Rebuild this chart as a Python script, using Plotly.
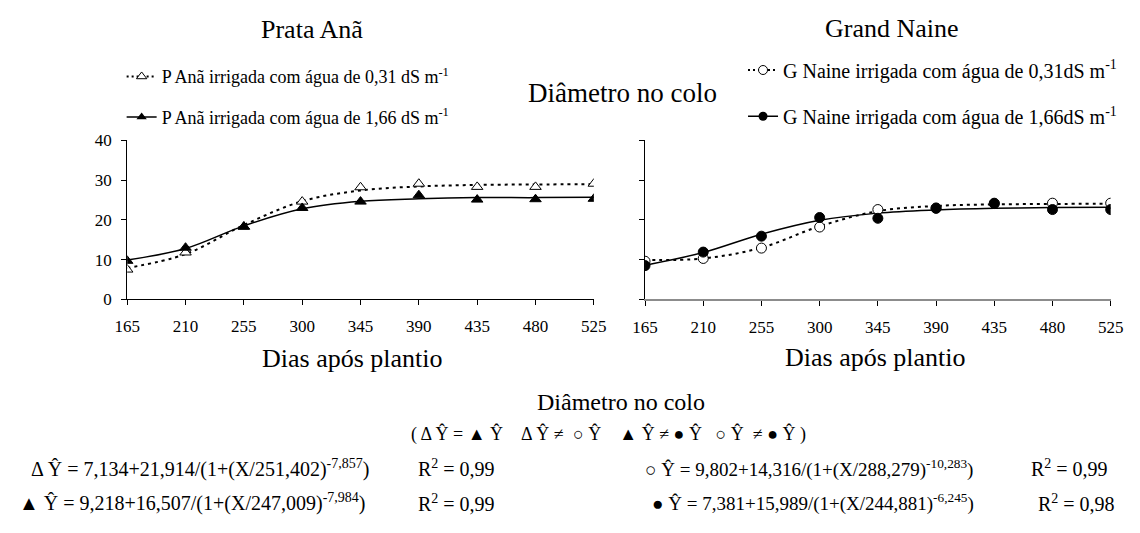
import plotly.graph_objects as go

# ---------------- data ----------------
days = [165, 210, 255, 300, 345, 390, 435, 480, 525]
x_ticks = [165, 210, 255, 300, 345, 390, 435, 480, 525]
y_ticks = [0, 10, 20, 30, 40]

# observed means
pa_031 = [7.5, 11.8, 18.3, 24.6, 28.2, 29.1, 28.3, 28.3, 29.1]
pa_166 = [9.7, 13.0, 18.3, 23.0, 24.6, 26.2, 25.1, 25.2, 25.3]
gn_031 = [9.6, 10.3, 12.9, 18.2, 22.6, 23.0, 24.2, 24.2, 24.2]
gn_166 = [8.5, 11.9, 15.9, 20.6, 20.4, 22.9, 24.1, 22.6, 22.6]

# fitted (curve) values read at each day
fit_pa_031 = [7.9, 11.4, 18.7, 24.7, 27.4, 28.4, 28.8, 28.9, 29.0]
fit_pa_166 = [9.9, 12.8, 18.5, 22.8, 24.7, 25.3, 25.6, 25.6, 25.7]
fit_gn_031 = [9.9, 10.3, 13.0, 18.4, 22.2, 23.5, 23.9, 24.0, 24.1]
fit_gn_166 = [8.6, 11.8, 16.4, 19.9, 21.7, 22.5, 22.9, 23.1, 23.2]

legend_names = [
    "P Anã irrigada com água de 0,31 dS m<sup>-1</sup>",
    "P Anã irrigada com água de 1,66 dS m<sup>-1</sup>",
    "G Naine irrigada com água de 0,31dS m<sup>-1</sup>",
    "G Naine irrigada com água de 1,66dS m<sup>-1</sup>",
]

FONT = "Liberation Serif, Times New Roman, serif"
PAGE_W, PAGE_H = 1140, 533
M = 8  # default body margin of the html page
W, H = PAGE_W - M, PAGE_H - M


def px(x):
    return (x - M) / W


def py(y):
    return 1 - (y - M) / H


fig = go.Figure()

DOT = "3px,4px"
SOLID_W = 1.5
DOT_W = 2

# ---- left panel ----
fig.add_trace(go.Scatter(x=days, y=fit_pa_031, mode="lines", line=dict(color="black", width=DOT_W, dash=DOT, shape="spline"),
                         xaxis="x", yaxis="y", showlegend=False, hoverinfo="skip"))
fig.add_trace(go.Scatter(x=days, y=fit_pa_166, mode="lines", line=dict(color="black", width=SOLID_W, shape="spline"),
                         xaxis="x", yaxis="y", showlegend=False, hoverinfo="skip"))
fig.add_trace(go.Scatter(x=days, y=pa_031, mode="markers",
                         marker=dict(symbol="triangle-up", size=10, color="white", line=dict(color="black", width=1)),
                         xaxis="x", yaxis="y", showlegend=False))
fig.add_trace(go.Scatter(x=days, y=pa_166, mode="markers",
                         marker=dict(symbol="triangle-up", size=10, color="black", line=dict(color="black", width=1)),
                         xaxis="x", yaxis="y", showlegend=False))

# ---- right panel ----
fig.add_trace(go.Scatter(x=days, y=fit_gn_031, mode="lines", line=dict(color="black", width=DOT_W, dash=DOT, shape="spline"),
                         xaxis="x2", yaxis="y2", showlegend=False, hoverinfo="skip"))
fig.add_trace(go.Scatter(x=days, y=fit_gn_166, mode="lines", line=dict(color="black", width=SOLID_W, shape="spline"),
                         xaxis="x2", yaxis="y2", showlegend=False, hoverinfo="skip"))
fig.add_trace(go.Scatter(x=days, y=gn_031, mode="markers",
                         marker=dict(symbol="circle", size=10, color="white", line=dict(color="black", width=1)),
                         xaxis="x2", yaxis="y2", showlegend=False))
fig.add_trace(go.Scatter(x=days, y=gn_166, mode="markers",
                         marker=dict(symbol="circle", size=10, color="black", line=dict(color="black", width=1)),
                         xaxis="x2", yaxis="y2", showlegend=False))

# ---- legend entries (one legend per entry for exact placement) ----
fig.add_trace(go.Scatter(x=[None], y=[None], mode="lines+markers", name=legend_names[0],
                         line=dict(color="black", width=2, dash="2px,3px"),
                         marker=dict(symbol="triangle-up", size=9, color="white", line=dict(color="black", width=1)),
                         legend="legend", xaxis="x", yaxis="y"))
fig.add_trace(go.Scatter(x=[None], y=[None], mode="lines+markers", name=legend_names[1],
                         line=dict(color="black", width=SOLID_W),
                         marker=dict(symbol="triangle-up", size=9, color="black"),
                         legend="legend2", xaxis="x", yaxis="y"))
fig.add_trace(go.Scatter(x=[None], y=[None], mode="lines+markers", name=legend_names[2],
                         line=dict(color="black", width=2, dash="2px,3px"),
                         marker=dict(symbol="circle", size=9, color="white", line=dict(color="black", width=1)),
                         legend="legend3", xaxis="x2", yaxis="y2"))
fig.add_trace(go.Scatter(x=[None], y=[None], mode="lines+markers", name=legend_names[3],
                         line=dict(color="black", width=SOLID_W),
                         marker=dict(symbol="circle", size=9, color="black"),
                         legend="legend4", xaxis="x2", yaxis="y2"))

xl0, xl1 = 116.7, 594.3
xr0, xr1 = 646.7, 1123.3
yt, yb = 136, 301
ydom = [py(yb), py(yt)]

axis_common = dict(showgrid=False, zeroline=False, showline=True, linecolor="black", linewidth=1,
                   ticks="outside", ticklen=5, tickcolor="black", tickfont=dict(family=FONT, size=17, color="black"))
frame_right = dict(range=[0, 40], tickvals=y_ticks, showticklabels=False, side="right",
                   showgrid=False, zeroline=False, showline=True, linecolor="black", linewidth=1,
                   ticks="inside", ticklen=5, tickcolor="black")


def leg(xp, yp, size):
    return dict(x=px(xp), y=py(yp), xanchor="left", yanchor="middle", bgcolor="rgba(0,0,0,0)",
                font=dict(family=FONT, size=size, color="black"), itemwidth=30)


fig.update_layout(
    width=W, height=H,
    margin=dict(l=0, r=0, t=0, b=0),
    paper_bgcolor="white", plot_bgcolor="white",
    font=dict(family=FONT, color="black"),
    xaxis=dict(domain=[px(xl0), px(xl1)], range=[165, 525], tickvals=x_ticks, anchor="y",
               ticklabelstandoff=6, **axis_common),
    yaxis=dict(domain=ydom, range=[0, 40], tickvals=y_ticks, anchor="x", ticklabelstandoff=6, **axis_common),
    yaxis3=dict(overlaying="y", anchor="x", **frame_right),
    xaxis2=dict(domain=[px(xr0), px(xr1)], range=[165, 525], tickvals=x_ticks, anchor="y2", ticklabelstandoff=6,
                **{**axis_common, "linecolor": "#8c8c8c", "linewidth": 1.5}),
    yaxis2=dict(domain=ydom, range=[0, 40], tickvals=y_ticks, anchor="x2", showticklabels=False,
                **{k: v for k, v in axis_common.items() if k != "tickfont"}),
    yaxis4=dict(overlaying="y2", anchor="x2", **frame_right),
    legend=leg(111, 70, 18),
    legend2=leg(111, 112, 18),
    legend3=leg(747, 63, 20),
    legend4=leg(747, 111, 20),
)

ann = []


def text(x, y, s, size, anchor="center"):
    ann.append(dict(x=px(x), y=py(y), xref="paper", yref="paper", text=s, showarrow=False,
                    xanchor=anchor, yanchor="middle", font=dict(family=FONT, size=size, color="black")))


NB = "&nbsp;"
text(306, 21, "Prata Anã", 26)
text(899, 20, "Grand Naine", 26)
text(624, 87, "Diâmetro no colo", 27)
text(347, 362, "Dias após plantio", 26)
text(883, 361, "Dias após plantio", 26)
text(622, 407, "Diâmetro no colo", 24)
# second line, split where it crosses the middle of the page
text(566, 441, "( Δ Ŷ = ▲ Ŷ" + NB * 4 + "Δ Ŷ ≠", 18, "right")
text(571, 441, "○ Ŷ" + NB * 4 + "▲ Ŷ ≠ ● Ŷ" + NB * 3 + "○ Ŷ " + NB + "≠ ● Ŷ )", 18, "left")
text(16, 476, "Δ Ŷ = 7,134+21,914/(1+(X/251,402)<sup>-7,857</sup>)", 20, "left")
text(412, 476, "R<sup>2</sup> = 0,99", 20, "left")
text(4, 512, "▲ Ŷ = 9,218+16,507/(1+(X/247,009)<sup>-7,984</sup>)", 20, "left")
text(412, 512, "R<sup>2</sup> = 0,99", 20, "left")
text(645, 476, "○ Ŷ = 9,802+14,316/(1+(X/288,279)<sup>-10,283</sup>)", 19, "left")
text(1040, 476, "R<sup>2</sup> = 0,99", 20, "left")
text(652, 512, "● Ŷ = 7,381+15,989/(1+(X/244,881)<sup>-6,245</sup>)", 19, "left")
text(1047, 512, "R<sup>2</sup> = 0,98", 20, "left")
fig.update_layout(annotations=ann)

fig.write_html("out.html")
